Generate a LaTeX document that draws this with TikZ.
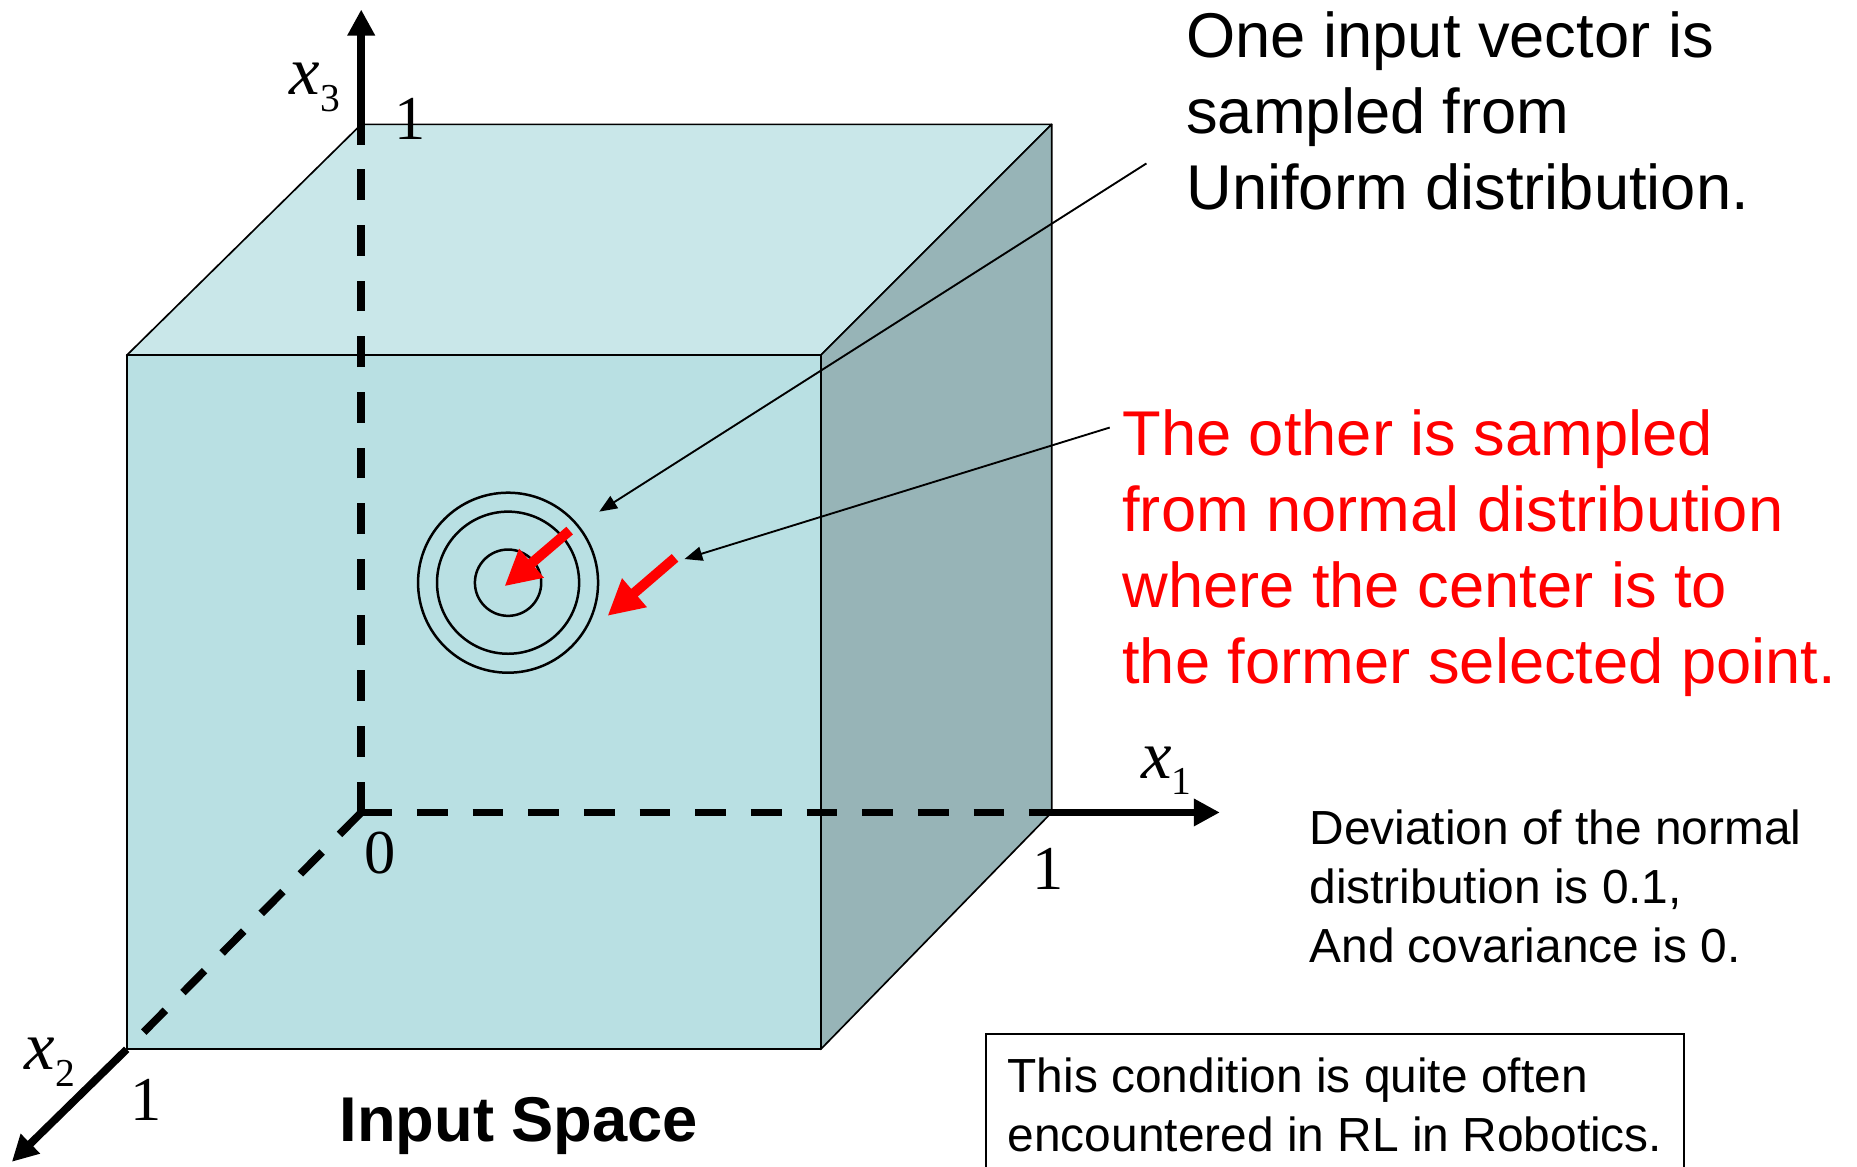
\documentclass[tikz,border=0pt]{standalone}
\usepackage{fontspec}
\setmainfont{Liberation Sans}
\newfontfamily\timesfont{Liberation Serif}
\usepackage{tikz}
\usetikzlibrary{arrows.meta, positioning, calc}
\definecolor{cube-front}{RGB}{185, 224, 227}
\definecolor{cube-top}{RGB}{201, 231, 233}
\definecolor{cube-side}{RGB}{151, 180, 183}
\definecolor{note-red}{RGB}{255, 0, 0}
\newcommand{\axlabel}[1]{{\timesfont\itshape x}\raisebox{-4pt}{\timesfont\fontsize{9.5}{10}\selectfont #1}}

\begin{document}
\begin{tikzpicture}[x=0.1mm, y=-0.1mm,
        face/.style={draw=black, line width=0.4pt, line join=round},
        axis/.style={line width=0.65mm, dash pattern=on 2.6mm off 2.1mm},
        axisarr/.style={line width=0.65mm, -{Triangle[length=2.2mm, width=2.2mm]}},
        ticklbl/.style={inner sep=0pt, font=\timesfont\fontsize{15}{15}\selectfont},
        axlbl/.style={inner sep=0pt, anchor=base west, font=\fontsize{16.5}{17}\selectfont},
        bigtext/.style={inner sep=0pt, anchor=north west, align=left,
                        font=\fontsize{15.2}{18.3}\selectfont},
        smalltext/.style={inner sep=0pt, anchor=north west, align=left,
                          font=\fontsize{11.5}{14.2}\selectfont},
        pointer/.style={-{Triangle[length=1.5mm, width=1.2mm]}, line width=0.45pt},
        redarr/.style={-{Triangle[length=3mm, width=3mm]}, line width=0.85mm, color=note-red},
        ring/.style={draw=black, line width=0.6pt}
      ]
        \useasboundingbox (0,0) rectangle (1568,985);
        \coordinate (O)  at (305,686);
        \coordinate (ftl) at (107,300);
        \coordinate (ftr) at (693,300);
        \coordinate (fbr) at (693,886);
        \coordinate (fbl) at (107,886);
        \coordinate (btl) at (305,105);
        \coordinate (btr) at (888,105);
        \coordinate (bbr) at (888,686);
        \coordinate (x1tip) at (1030,686);
        \coordinate (x2tip) at (10,981);
        \coordinate (x3tip) at (305,8);
        \filldraw[face, fill=cube-top] (ftl) -- (btl) -- (btr) -- (ftr) -- cycle;
        \filldraw[face, fill=cube-side] (ftr) -- (btr) -- (bbr) -- (fbr) -- cycle;
        \filldraw[face, fill=cube-front] (ftl) rectangle (fbr);
        \draw[axis] (O) -- (bbr);
        \draw[axis] (O) -- (btl);
        \draw[axis] (O) -- (fbl);
        \draw[axisarr] (bbr) -- (x1tip);
        \draw[axisarr] (btl) -- (x3tip);
        \draw[axisarr] (fbl) -- (x2tip);
        \node[axlbl] (x3) at (244,80) {\axlabel{3}};
        \node[axlbl] (x1) at (963,657) {\axlabel{1}};
        \node[axlbl] (x2) at (20,903) {\axlabel{2}};
        \node[ticklbl] (t3) at (346,100) {1};
        \node[ticklbl] (t0) at (321,720) {0};
        \node[ticklbl] (t1) at (885,734) {1};
        \node[ticklbl] (t2) at (123,929) {1};
        \coordinate (ctr) at (429,492);
        \draw[ring] (ctr) circle[radius=76];
        \draw[ring] (ctr) circle[radius=60];
        \draw[ring] (ctr) circle[radius=28];
        \coordinate (r1s) at (481,448);
        \coordinate (r1e) at (426,495);
        \coordinate (r2s) at (570,471);
        \coordinate (r2e) at (513,520);
        \draw[redarr] (r1s) -- (r1e);
        \draw[redarr] (r2s) -- (r2e);
        \node[bigtext] (uni) at (1001,9) {One input vector is\\sampled from\\Uniform distribution.};
        \node[bigtext, text=note-red] (normal) at (947,345)
          {The other is sampled\\from normal distribution\\where the center is to\\the former selected point.};
        \coordinate (p1s) at (968,138);
        \coordinate (p1e) at (506,432);
        \coordinate (p2s) at (937,361);
        \coordinate (p2e) at (578,472);
        \draw[pointer] (p1s) -- (p1e);
        \draw[pointer] (p2s) -- (p2e);
        \node[smalltext] (dev) at (1105,683) {Deviation of the normal\\distribution is 0.1,\\And covariance is 0.};
        \node[smalltext, draw=black, line width=0.5pt, inner xsep=1.8mm, inner ysep=2mm] (cond) at (832,872)
          {This condition is quite often\\encountered in RL in Robotics.};
        \node[inner sep=0pt, anchor=base, font=\bfseries\fontsize{15.2}{18}\selectfont] (space) at (438,964) {Input Space};
      \end{tikzpicture}
\end{document}
